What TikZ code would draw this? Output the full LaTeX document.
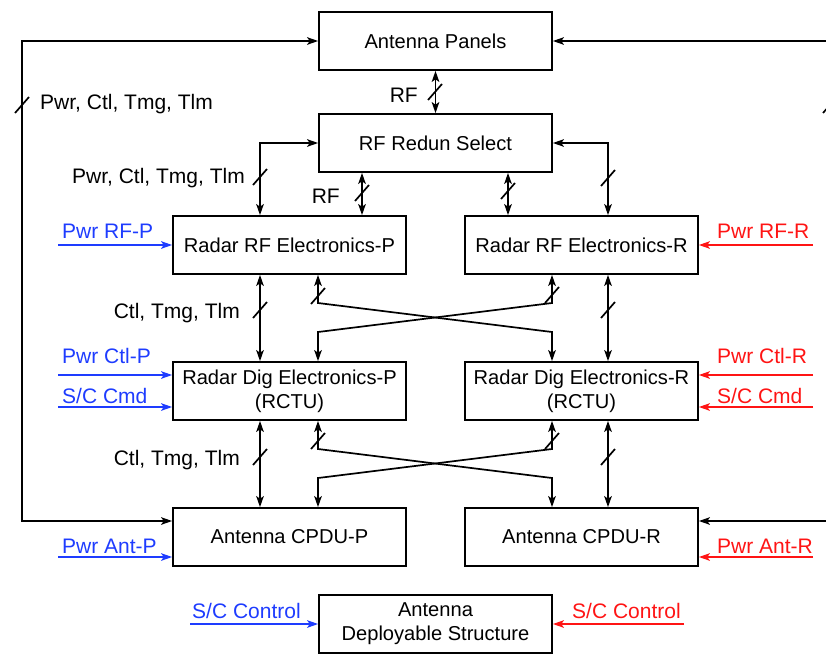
\documentclass[tikz,border=0pt]{standalone}
\usepackage{fontspec}
\setmainfont{Liberation Sans}
\usetikzlibrary{arrows.meta,calc}
\definecolor{inblue}{RGB}{30,60,255}
\definecolor{inred}{RGB}{255,20,20}
\tikzset{
  ah/.tip={Stealth[length=11pt,width=7.5pt,inset=2.5pt]},
  box/.style={draw, line width=1.7pt, minimum width=233pt, minimum height=58pt, inner sep=0pt, align=center, font=\fontsize{20.1}{24}\selectfont},
  lbl/.style={inner sep=0pt, font=\fontsize{21}{25}\selectfont},
  conn/.style={line width=1.7pt, ah-ah},
  bin/.style={line width=1.7pt, -ah, draw=inblue},
  rin/.style={line width=1.7pt, -ah, draw=inred},
  tickst/.style={line width=1.7pt},
}
\newcommand\tickmark[2]{\draw[tickst] (#1-7,#2+8) -- ++(14,-16);}
\begin{document}
\begin{tikzpicture}[x=1pt,y=-1pt]
\clip (0,0) rectangle (826,654);
% boxes
\node[box] (ap)  at (435.5,41)  {Antenna Panels};
\node[box] (rs)  at (435.5,143) {RF Redun Select};
\node[box] (rfp) at (289.5,245) {Radar RF Electronics-P};
\node[box] (rfr) at (581.5,245) {Radar RF Electronics-R};
\node[box] (dgp) at (289.5,391) {Radar Dig Electronics-P\\(RCTU)};
\node[box] (dgr) at (581.5,391) {Radar Dig Electronics-R\\(RCTU)};
\node[box] (cp)  at (289.5,537) {Antenna CPDU-P};
\node[box] (cr)  at (581.5,537) {Antenna CPDU-R};
\node[box] (ds)  at (435.5,624) {Antenna\\Deployable Structure};
% guide coordinates
\coordinate (xa) at (260,0);
\coordinate (xb) at (318,0);
\coordinate (xc) at (362,0);
\coordinate (xd) at (508,0);
\coordinate (xe) at (552,0);
\coordinate (xf) at (608,0);
\coordinate (ltop) at (22,41);
\coordinate (lbot) at (22,521);
\coordinate (rtop) at (830,41);
\coordinate (rbot) at (830,521);
% outer loops
\draw[conn] (ap.west) -- (ltop) -- (lbot) -- ([yshift=16pt]cp.west);
\draw[conn] (ap.east) -- (rtop) -- (rbot) -- ([yshift=16pt]cr.east);
\tickmark{22}{105}
\tickmark{830}{105}
\node[lbl, anchor=base west] at (40,109) {Pwr, Ctl, Tmg, Tlm};
% antenna panels - rf redun
\draw[conn] (ap.south) -- (rs.north);
\tickmark{435}{92}
\node[lbl, anchor=base east] at (418,102) {RF};
% rf redun - rf electronics
\draw[conn] (rs.west) -| (rfp.north -| xa);
\draw[conn] (rs.east) -| (rfr.north -| xf);
\draw[conn] (rs.south -| xc) -- (rfp.north -| xc);
\draw[conn] (rs.south -| xd) -- (rfr.north -| xd);
\tickmark{260}{177}
\tickmark{608}{178}
\tickmark{362}{193}
\tickmark{508}{191}
\node[lbl, anchor=base east] at (245,183) {Pwr, Ctl, Tmg, Tlm};
\node[lbl, anchor=base east] at (340,203) {RF};
% rf electronics - dig electronics
\draw[conn] (rfp.south -| xa) -- (dgp.north -| xa);
\draw[conn] (rfr.south -| xf) -- (dgr.north -| xf);
\draw[conn] (rfp.south -| xb) -- (318,303) -- (552,332) -- (dgr.north -| xe);
\draw[conn] (rfr.south -| xe) -- (552,303) -- (318,332) -- (dgp.north -| xb);
\tickmark{260}{310}
\tickmark{608}{310}
\tickmark{318}{296}
\tickmark{552}{295}
\node[lbl, anchor=base east] at (240,318) {Ctl, Tmg, Tlm};
% dig electronics - cpdu
\draw[conn] (dgp.south -| xa) -- (cp.north -| xa);
\draw[conn] (dgr.south -| xf) -- (cr.north -| xf);
\draw[conn] (dgp.south -| xb) -- (318,449) -- (552,478) -- (cr.north -| xe);
\draw[conn] (dgr.south -| xe) -- (552,449) -- (318,478) -- (cp.north -| xb);
\tickmark{260}{457}
\tickmark{608}{457}
\tickmark{318}{441}
\tickmark{552}{441}
\node[lbl, anchor=base east] at (240,465) {Ctl, Tmg, Tlm};
% blue inputs
\coordinate (b1) at (58,245);
\coordinate (b2) at (58,375);
\coordinate (b3) at (58,407);
\coordinate (b4) at (58,557);
\coordinate (b5) at (190,624);
\draw[bin] (b1) -- (rfp.west);
\draw[bin] (b2) -- ([yshift=16pt]dgp.west);
\draw[bin] (b3) -- ([yshift=-16pt]dgp.west);
\draw[bin] (b4) -- ([yshift=-20pt]cp.west);
\draw[bin] (b5) -- (ds.west);
\node[lbl, text=inblue, anchor=base west] at (62,238) {Pwr RF-P};
\node[lbl, text=inblue, anchor=base west] at (62,363) {Pwr Ctl-P};
\node[lbl, text=inblue, anchor=base west] at (62,403) {S/C Cmd};
\node[lbl, text=inblue, anchor=base west] at (62,553) {Pwr Ant-P};
\node[lbl, text=inblue, anchor=base west] at (192,618) {S/C Control};
% red inputs
\coordinate (r1) at (813,245);
\coordinate (r2) at (813,375);
\coordinate (r3) at (813,407);
\coordinate (r4) at (813,557);
\coordinate (r5) at (684,624);
\draw[rin] (r1) -- (rfr.east);
\draw[rin] (r2) -- ([yshift=16pt]dgr.east);
\draw[rin] (r3) -- ([yshift=-16pt]dgr.east);
\draw[rin] (r4) -- ([yshift=-20pt]cr.east);
\draw[rin] (r5) -- (ds.east);
\node[lbl, text=inred, anchor=base west] at (717,238) {Pwr RF-R};
\node[lbl, text=inred, anchor=base west] at (717,363) {Pwr Ctl-R};
\node[lbl, text=inred, anchor=base west] at (717,403) {S/C Cmd};
\node[lbl, text=inred, anchor=base west] at (717,553) {Pwr Ant-R};
\node[lbl, text=inred, anchor=base west] at (572,618) {S/C Control};
\end{tikzpicture}
\end{document}
